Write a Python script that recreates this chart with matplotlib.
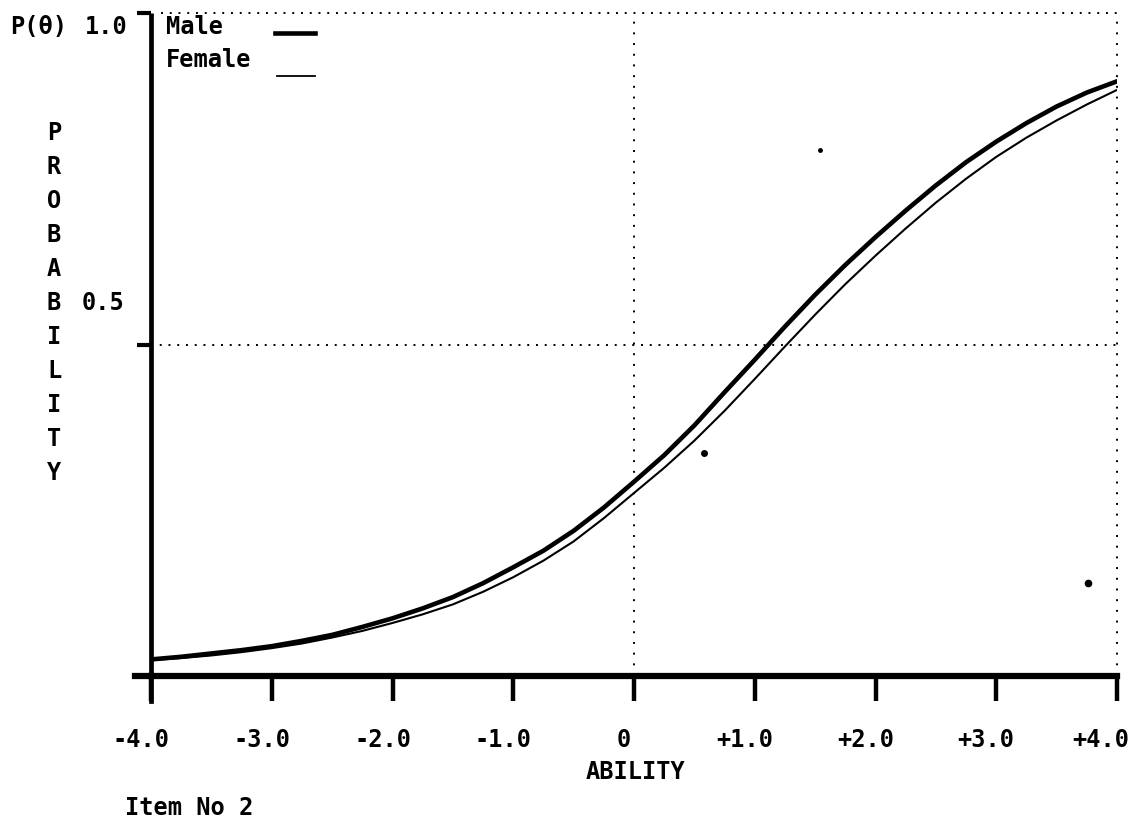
import matplotlib
matplotlib.use("Agg")
import matplotlib.pyplot as plt
from matplotlib.lines import Line2D

# Item characteristic curves, probability of a correct response by ability
ability = [-4.0, -3.75, -3.5, -3.25, -3.0, -2.75, -2.5, -2.25, -2.0, -1.75,
           -1.5, -1.25, -1.0, -0.75, -0.5, -0.25, 0.0, 0.25, 0.5, 0.75,
           1.0, 1.25, 1.5, 1.75, 2.0, 2.25, 2.5, 2.75, 3.0, 3.25, 3.5, 3.75, 4.0]
male = [0.025, 0.029, 0.034, 0.039, 0.045, 0.053, 0.062, 0.074, 0.087, 0.102,
        0.119, 0.140, 0.164, 0.189, 0.219, 0.254, 0.293, 0.333, 0.378, 0.428,
        0.477, 0.527, 0.575, 0.620, 0.662, 0.702, 0.740, 0.775, 0.806, 0.834,
        0.859, 0.880, 0.897]
female = [0.024, 0.027, 0.031, 0.036, 0.042, 0.049, 0.058, 0.068, 0.080, 0.093,
          0.108, 0.127, 0.149, 0.174, 0.203, 0.238, 0.276, 0.314, 0.355, 0.400,
          0.448, 0.497, 0.545, 0.591, 0.634, 0.675, 0.714, 0.750, 0.783, 0.812,
          0.838, 0.862, 0.884]

x_ticks = [-4, -3, -2, -1, 0, 1, 2, 3, 4]
x_tick_labels = ["-4.0", "-3.0", "-2.0", "-1.0", "0", "+1.0", "+2.0", "+3.0", "+4.0"]
y_ticks = [0.5, 1.0]
y_tick_labels = ["0.5", "1.0"]
series_names = ["Male", "Female"]
y_title = "PROBABILITY"
x_title = "ABILITY"
item_label = "Item No 2"

# stray printer specks
specks_x = [0.577, 1.54, 3.76]
specks_y = [0.336, 0.793, 0.140]
specks_size = [4, 2.5, 4.5]

W, H = 1133, 826
fig = plt.figure(figsize=(W / 100, H / 100), dpi=100)
fig.patch.set_facecolor("white")

L, R, T, B = 151, 1117, 13, 676
ax = fig.add_axes([L / W, 1 - B / H, (R - L) / W, (B - T) / H])
ax.set_xlim(-4, 4)
ax.set_ylim(0, 1.0)

font = dict(family=["DejaVu Sans Mono"], weight="bold", size=17, color="black")


def fx(px):
    return px / W


def fy(py):
    return 1 - py / H


# dotted reference grid
ax.axvline(0, color="black", lw=1.4, ls=(0, (1, 4.5)), zorder=1)
ax.axvline(4, color="black", lw=1.4, ls=(0, (1, 4.5)), zorder=1, clip_on=False)
ax.axhline(0.5, color="black", lw=1.4, ls=(0, (1, 3.5)), zorder=1)
ax.axhline(1.0, xmin=0.01, color="black", lw=1.4, ls=(0, (1, 3.5)), zorder=1, clip_on=False)

# curves
ax.plot(ability, male, color="black", lw=3.3, solid_capstyle="round",
        solid_joinstyle="round", zorder=3)
ax.plot(ability, female, color="black", lw=1.5, solid_joinstyle="round", zorder=3)
for sx, sy, ss in zip(specks_x, specks_y, specks_size):
    ax.plot([sx], [sy], "o", color="black", ms=ss, zorder=3)

# axes frame
for side in ("top", "right"):
    ax.spines[side].set_visible(False)
ax.spines["left"].set_linewidth(3.4)
ax.spines["bottom"].set_linewidth(4.5)
ax.spines["left"].set_capstyle("butt")

ax.set_xticks(x_ticks)
ax.set_xticklabels([])
ax.tick_params(axis="x", direction="out", length=18, width=3.2, color="black")
ax.set_yticks(y_ticks)
ax.set_yticklabels([])
ax.tick_params(axis="y", direction="out", length=10, width=3.0, color="black")

# extension of baseline to the left and of the left axis below the baseline
fig.add_artist(Line2D([fx(135), fx(L)], [fy(B), fy(B)], color="black", lw=4.5))
fig.add_artist(Line2D([fx(L), fx(L)], [fy(B), fy(701)], color="black", lw=3.4))

# tick labels
for xv, lab in zip(x_ticks, x_tick_labels):
    px = L + (xv + 4) / 8 * (R - L) - 10
    px = min(px, 1101)
    fig.text(fx(px), fy(740), lab, ha="center", va="center", **font)

fig.text(fx(128), fy(27), y_tick_labels[1], ha="right", va="center", **font)
fig.text(fx(10), fy(27), "P(\u03b8)", ha="left", va="center", **font)

# vertical axis title, one letter per row
for i, ch in enumerate(y_title):
    fig.text(fx(54), fy(133 + i * 34), ch, ha="center", va="center", **font)

fig.text(fx(124), fy(133 + 5 * 34), y_tick_labels[0], ha="right", va="center", **font)

fig.text(fx(635), fy(772), x_title, ha="center", va="center", **font)
fig.text(fx(125), fy(808), item_label, ha="left", va="center", **font)

# legend
fig.text(fx(166), fy(27), series_names[0], ha="left", va="center", **font)
fig.text(fx(166), fy(60), series_names[1], ha="left", va="center", **font)
fig.add_artist(Line2D([fx(275), fx(315)], [fy(33), fy(33)], color="black", lw=3.3))
fig.add_artist(Line2D([fx(277), fx(315)], [fy(76), fy(76)], color="black", lw=1.3))

fig.savefig("out.png", dpi=100, facecolor="white")
